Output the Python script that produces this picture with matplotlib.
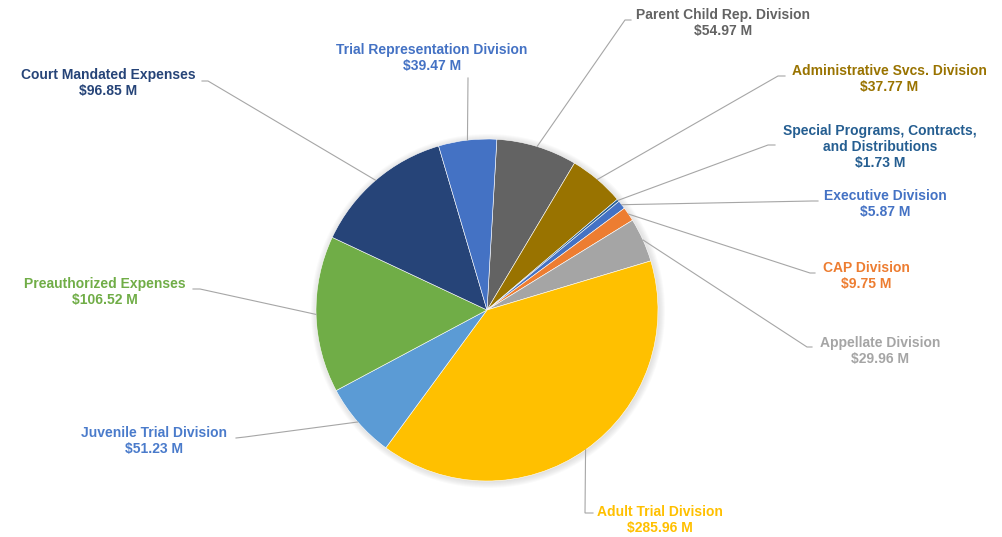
import numpy as np
import matplotlib as mpl
mpl.use('Agg')
import matplotlib.pyplot as plt
from matplotlib.patches import Circle

plt.rcParams['font.family'] = ['Liberation Sans', 'DejaVu Sans']

# Budget by division, in millions, clockwise from the top
divisions = ['Parent Child Rep. Division', 'Administrative Svcs. Division',
             'Special Programs, Contracts,\nand Distributions', 'Executive Division',
             'CAP Division', 'Appellate Division', 'Adult Trial Division',
             'Juvenile Trial Division', 'Preauthorized Expenses',
             'Court Mandated Expenses', 'Trial Representation Division']
amounts = [54.97, 37.77, 1.73, 5.87, 9.75, 29.96, 285.96, 51.23, 106.52, 96.85, 39.47]

wedge_clr = ['#636363', '#997300', '#255E91', '#4472C4', '#ED7D31', '#A5A5A5',
             '#FFC000', '#5B9BD5', '#70AD47', '#264478', '#4472C4']
text_clr = ['#636363', '#997300', '#255E91', '#4472C4', '#ED7D31', '#A5A5A5',
            '#FFC000', '#4A7BCB', '#70AD47', '#264478', '#4472C4']

# label block centres and leader elbows, in pixels from the top-left corner
lab_xy = [(723, 23), (889, 79), (880, 147), (885, 204), (866, 276), (880, 351),
          (660, 520), (154, 441), (105, 292), (108, 83), (432, 58)]
elbow = [((625, 20), (631, 20)), ((778, 76), (785, 76)), ((768, 145), (775, 145)),
         ((812, 201), (818, 201)), ((810, 273), (815, 273)), ((807, 347), (812, 347)),
         ((585, 513), (593, 513)), ((245, 437), (236, 438)), ((200, 289), (193, 289)),
         ((208, 81), (202, 81)), ((468, 78), (468, 78))]

W, H = 1003, 537
xc, yc, rad = 487., H - 310., 171.
rDPI = 100

fig = plt.figure(figsize=(W/rDPI, H/rDPI), dpi=rDPI, facecolor='w')
ax = fig.add_axes([0., 0., 1., 1.])
ax.set_xlim(0, W)
ax.set_ylim(0, H)
ax.axis('off')

# soft shadow round the pie
for k in range(7):
    ax.add_patch(Circle((xc + 1, yc - 1), rad + 6 - k, facecolor='#808080',
                        edgecolor='none', alpha=0.035, zorder=1))

wedges, _ = ax.pie(amounts, colors=wedge_clr, startangle=86.7, counterclock=False,
                   center=(xc, yc), radius=rad, frame=True,
                   wedgeprops=dict(edgecolor='w', linewidth=0.4, zorder=2))
ax.set_xlim(0, W)
ax.set_ylim(0, H)
ax.set_aspect('equal')
ax.axis('off')

for jw, wdg in enumerate(wedges):
    amid = np.deg2rad(0.5*(wdg.theta1 + wdg.theta2))
    x0 = xc + rad*np.cos(amid)
    y0 = yc + rad*np.sin(amid)
    (xe, ye), (xf, yf) = elbow[jw]
    ax.plot([x0, xe, xf], [y0, H - ye, H - yf], color='#A6A6A6', lw=0.8,
            solid_joinstyle='miter', zorder=3)
    ctxt = divisions[jw] + '\n$' + '%.2f' % amounts[jw] + ' M'
    ax.text(lab_xy[jw][0], H - lab_xy[jw][1], ctxt.replace('$', r'\$'),
            ha='center', va='center', multialignment='center', fontsize=10,
            fontweight='bold', color=text_clr[jw], linespacing=1.15, zorder=4)

plt.savefig('out.png', dpi=rDPI, facecolor='w')
plt.close(fig)
